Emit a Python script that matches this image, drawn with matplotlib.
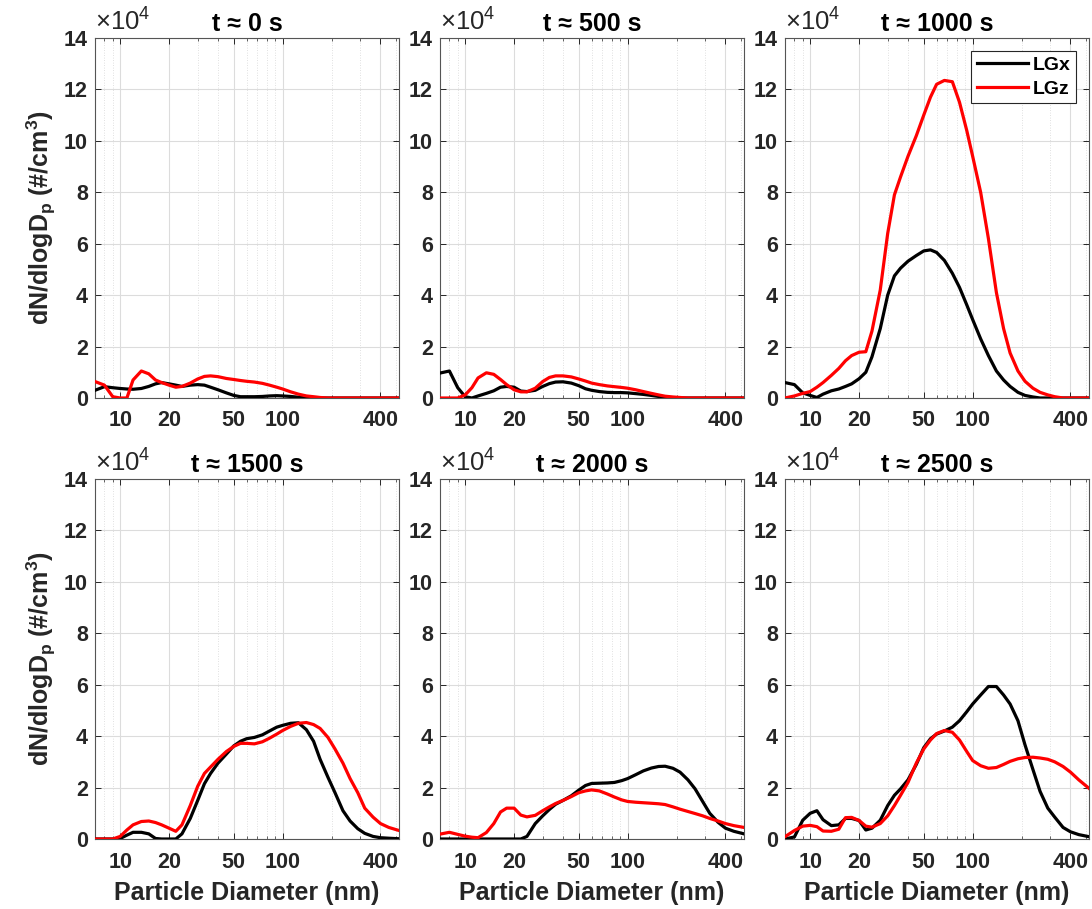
import numpy as np
import matplotlib
matplotlib.use("Agg")
import matplotlib.pyplot as plt
from matplotlib.ticker import FixedLocator, FuncFormatter, LogLocator, NullFormatter

plt.rcParams['font.family'] = ['Liberation Sans', 'DejaVu Sans']
plt.rcParams['font.weight'] = 'bold'
plt.rcParams['axes.titleweight'] = 'bold'
plt.rcParams['axes.labelweight'] = 'bold'
plt.rcParams['mathtext.default'] = 'regular'

# ---------------- data (dN/dlogDp in units of 1e4 #/cm^3) ----------------
SCALE = 1e4
diameter_nm = [7, 8, 9, 10, 11, 12, 13.5, 15, 16.5, 18,
               20, 22, 24, 27, 30, 33, 36, 40, 45, 50,
               55, 60, 67, 75, 83, 92, 100, 112, 125, 140,
               155, 170, 190, 210, 235, 260, 290, 320, 360, 400,
               450, 520]

titles = ["t \u2248 0 s", "t \u2248 500 s", "t \u2248 1000 s",
          "t \u2248 1500 s", "t \u2248 2000 s", "t \u2248 2500 s"]
series_names = ["LGx", "LGz"]

lgx_t0 = [0.30, 0.44, 0.40, 0.37, 0.35, 0.34, 0.37, 0.45, 0.55, 0.60,
          0.55, 0.50, 0.45, 0.50, 0.52, 0.50, 0.42, 0.32, 0.20, 0.10,
          0.05, 0.05, 0.05, 0.06, 0.08, 0.09, 0.08, 0.06, 0.03, 0.01,
          0, 0, 0, 0, 0, 0, 0, 0, 0, 0, 0, 0]
lgz_t0 = [0.64, 0.50, 0.05, 0.00, 0.00, 0.70, 1.05, 0.94, 0.70, 0.60,
          0.50, 0.42, 0.45, 0.58, 0.74, 0.84, 0.86, 0.83, 0.76, 0.72,
          0.68, 0.65, 0.62, 0.57, 0.50, 0.42, 0.35, 0.24, 0.15, 0.08,
          0.05, 0.02, 0, 0, 0, 0, 0, 0, 0, 0, 0, 0]

lgx_t500 = [0.97, 1.05, 0.40, 0.05, 0.00, 0.08, 0.18, 0.28, 0.42, 0.45,
            0.42, 0.27, 0.25, 0.30, 0.45, 0.56, 0.62, 0.63, 0.58, 0.48,
            0.36, 0.30, 0.25, 0.22, 0.21, 0.21, 0.20, 0.17, 0.14, 0.10,
            0.06, 0.03, 0.01, 0, 0, 0, 0, 0, 0, 0, 0, 0]
lgz_t500 = [0, 0, 0, 0.12, 0.40, 0.78, 0.98, 0.92, 0.72, 0.52,
            0.32, 0.24, 0.24, 0.38, 0.64, 0.80, 0.86, 0.86, 0.82, 0.74,
            0.66, 0.58, 0.52, 0.47, 0.44, 0.41, 0.38, 0.32, 0.25, 0.18,
            0.12, 0.07, 0.04, 0.02, 0, 0, 0, 0, 0, 0, 0, 0]

lgx_t1000 = [0.60, 0.52, 0.20, 0.10, 0.02, 0.15, 0.28, 0.35, 0.45, 0.55,
             0.75, 1.00, 1.60, 2.70, 4.00, 4.75, 5.05, 5.32, 5.54, 5.72,
             5.76, 5.66, 5.35, 4.85, 4.30, 3.62, 3.05, 2.30, 1.65, 1.05,
             0.70, 0.45, 0.22, 0.10, 0.04, 0, 0, 0, 0, 0, 0, 0]
lgz_t1000 = [0.00, 0.08, 0.18, 0.25, 0.42, 0.60, 0.88, 1.15, 1.45, 1.65,
             1.78, 1.80, 2.60, 4.20, 6.40, 7.90, 8.60, 9.40, 10.20, 11.00,
             11.70, 12.20, 12.35, 12.30, 11.50, 10.40, 9.40, 8.00, 6.20, 4.10,
             2.70, 1.75, 1.05, 0.65, 0.38, 0.22, 0.12, 0.05, 0, 0, 0, 0]

lgx_t1500 = [0, 0, 0, 0.02, 0.15, 0.26, 0.26, 0.20, 0.02, 0,
             0, 0, 0.20, 0.80, 1.50, 2.15, 2.55, 2.95, 3.30, 3.62,
             3.80, 3.90, 3.95, 4.05, 4.20, 4.35, 4.42, 4.50, 4.52, 4.25,
             3.80, 3.10, 2.40, 1.80, 1.10, 0.70, 0.40, 0.22, 0.10, 0.05,
             0.03, 0.01]
lgz_t1500 = [0, 0, 0, 0.10, 0.35, 0.55, 0.68, 0.70, 0.64, 0.55,
             0.42, 0.30, 0.55, 1.30, 2.05, 2.55, 2.80, 3.10, 3.40, 3.60,
             3.72, 3.72, 3.70, 3.78, 3.92, 4.08, 4.22, 4.38, 4.50, 4.53,
             4.45, 4.30, 3.95, 3.50, 2.95, 2.35, 1.80, 1.20, 0.85, 0.60,
             0.45, 0.33]

lgx_t2000 = [0, 0, 0, 0, 0, 0, 0, 0, 0, 0,
             0, 0, 0.10, 0.60, 0.90, 1.15, 1.35, 1.50, 1.68, 1.90,
             2.08, 2.16, 2.17, 2.18, 2.20, 2.27, 2.35, 2.50, 2.65, 2.76,
             2.82, 2.83, 2.75, 2.60, 2.30, 1.95, 1.45, 1.00, 0.65, 0.42,
             0.30, 0.20]
lgz_t2000 = [0.19, 0.26, 0.18, 0.11, 0.07, 0.05, 0.25, 0.60, 1.05, 1.20,
             1.20, 0.93, 0.86, 0.92, 1.10, 1.25, 1.38, 1.50, 1.65, 1.80,
             1.87, 1.91, 1.87, 1.75, 1.63, 1.52, 1.46, 1.43, 1.41, 1.39,
             1.37, 1.34, 1.25, 1.16, 1.07, 0.99, 0.90, 0.80, 0.70, 0.60,
             0.52, 0.45]

lgx_t2500 = [0.00, 0.08, 0.73, 1.00, 1.10, 0.75, 0.52, 0.55, 0.80, 0.80,
             0.72, 0.35, 0.42, 0.73, 1.30, 1.70, 1.95, 2.30, 2.90, 3.55,
             3.90, 4.08, 4.20, 4.35, 4.60, 4.95, 5.25, 5.60, 5.93, 5.93,
             5.60, 5.25, 4.60, 3.66, 2.70, 1.85, 1.20, 0.85, 0.45, 0.28,
             0.17, 0.09]
lgz_t2500 = [0.09, 0.33, 0.50, 0.53, 0.48, 0.31, 0.30, 0.38, 0.83, 0.84,
             0.72, 0.50, 0.46, 0.60, 0.90, 1.30, 1.70, 2.20, 2.95, 3.50,
             3.85, 4.10, 4.22, 4.15, 3.85, 3.40, 3.05, 2.85, 2.75, 2.78,
             2.90, 3.02, 3.12, 3.17, 3.18, 3.15, 3.10, 3.00, 2.82, 2.60,
             2.30, 1.97]

lgx_all = [lgx_t0, lgx_t500, lgx_t1000, lgx_t1500, lgx_t2000, lgx_t2500]
lgz_all = [lgz_t0, lgz_t500, lgz_t1000, lgz_t1500, lgz_t2000, lgz_t2500]

x_ticks = [10, 20, 50, 100, 400]
y_ticks = [0, 2, 4, 6, 8, 10, 12, 14]

# ---------------- figure ----------------
W, H = 1092, 909
fig = plt.figure(figsize=(W / 100, H / 100), dpi=100)

lefts = [95, 440, 785]
tops = [38, 479]
aw, ah = 304, 360
dark = '#262626'

for i in range(6):
    r, c = divmod(i, 3)
    l = lefts[c]
    t = tops[r]
    ax = fig.add_axes([l / W, 1 - (t + ah) / H, aw / W, ah / H])
    ax.plot(diameter_nm, np.array(lgx_all[i]) * SCALE, color='black', lw=2.3,
            label=series_names[0], zorder=3)
    ax.plot(diameter_nm, np.array(lgz_all[i]) * SCALE, color='#ff0000', lw=2.3,
            label=series_names[1], zorder=3)
    ax.set_xscale('log')
    ax.set_xlim(7, 520)
    ax.set_ylim(0, 14 * SCALE)
    ax.xaxis.set_major_locator(FixedLocator(x_ticks))
    ax.xaxis.set_major_formatter(FuncFormatter(lambda v, p: f"{v:g}"))
    ax.xaxis.set_minor_locator(LogLocator(base=10, subs=np.arange(2, 10)))
    ax.xaxis.set_minor_formatter(NullFormatter())
    ax.yaxis.set_major_locator(FixedLocator([v * SCALE for v in y_ticks]))
    ax.yaxis.set_major_formatter(FuncFormatter(lambda v, p: f"{v / SCALE:g}"))

    ax.grid(True, which='major', color='#dcdcdc', lw=0.8, zorder=0)
    ax.grid(True, which='minor', axis='x', color='#d6d6d6', lw=0.6,
            linestyle=(0, (1, 2)), zorder=0)
    ax.set_axisbelow(True)

    ax.tick_params(which='major', direction='in', length=4, width=0.7,
                   top=True, right=True, colors=dark, labelsize=15.5)
    ax.tick_params(which='minor', direction='in', length=2.5, width=0.5,
                   top=True, right=True, colors=dark)
    ax.tick_params(axis='x', which='major', pad=9)
    ax.tick_params(axis='y', which='major', pad=5)
    for s in ax.spines.values():
        s.set_color('#555555')
        s.set_linewidth(0.8)

    ax.set_title(titles[i], fontsize=18, fontweight='bold', pad=5)
    ax.annotate('\u00d710$^{4}$', xy=(0, 1), xycoords='axes fraction',
                xytext=(0, 5), textcoords='offset points', ha='left',
                va='baseline', fontsize=18.5, fontweight='normal', color=dark)

    if c == 0:
        ax.set_ylabel('dN/dlogD$_p$ (#/cm$^3$)', fontsize=18, labelpad=4,
                      color=dark)
    if r == 1:
        ax.set_xlabel('Particle Diameter (nm)', fontsize=18, labelpad=6,
                      color=dark)
    if i == 2:
        leg = ax.legend(loc='upper right', bbox_to_anchor=(1, 1),
                        borderaxespad=0.65, fontsize=14, handlelength=2.6,
                        handletextpad=0.25, borderpad=0.3, labelspacing=0.3,
                        fancybox=False, framealpha=1, edgecolor=dark)
        leg.get_frame().set_linewidth(0.8)

fig.savefig('out.png', dpi=100)
